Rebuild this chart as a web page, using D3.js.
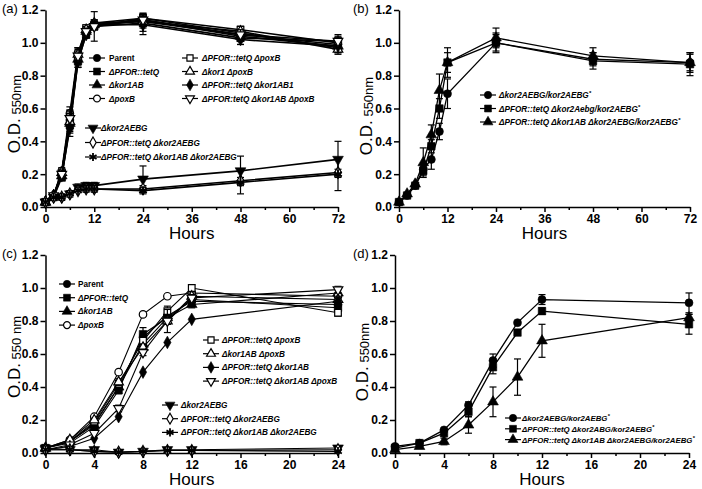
<!DOCTYPE html>
<html><head><meta charset="utf-8">
<script src="https://cdn.jsdelivr.net/npm/d3@7"></script>
<style>body{margin:0;background:#fff} svg{display:block} text{font-family:"Liberation Sans",Arial,Helvetica,sans-serif;}</style>
</head><body><svg id="chart" width="702" height="489"></svg>
<script>
// ---------- DATA ----------
const timesLong = [0,2,4,6,8,10,12,24,48,72];
const timesShort = [0,2,4,6,8,10,12,24];
const xTicksLong = [0,12,24,36,48,60,72];
const xMinorLong = [6,18,30,42,54,66];
const xTicksShort = [0,4,8,12,16,20,24];
const xMinorShort = [2,6,10,14,18,22];
const yTicks = [0,0.2,0.4,0.6,0.8,1.0,1.2];

// Panel (a): 11 strains, 72 h
const aLabels = ["Parent","ΔPFOR::tetQ","Δkor1AB","ΔpoxB","ΔPFOR::tetQ ΔpoxB","Δkor1 ΔpoxB","ΔPFOR::tetQ Δkor1AB1","ΔPFOR:tetQ Δkor1AB ΔpoxB","Δkor2AEBG","ΔPFOR::tetQ Δkor2AEBG","ΔPFOR::tetQ Δkor1AB Δkor2AEBG"];
const aValues = [
  [0.03,0.07,0.21,0.53,0.92,1.06,1.11,1.13,1.05,0.99],
  [0.03,0.06,0.18,0.50,0.89,1.05,1.10,1.12,1.03,1.01],
  [0.03,0.07,0.19,0.51,0.90,1.07,1.11,1.14,1.04,0.98],
  [0.03,0.07,0.22,0.57,0.94,1.08,1.12,1.15,1.06,0.97],
  [0.03,0.06,0.20,0.55,0.91,1.09,1.10,1.15,1.08,1.00],
  [0.03,0.07,0.21,0.52,0.93,1.08,1.12,1.13,1.07,0.96],
  [0.03,0.07,0.19,0.48,0.89,1.05,1.11,1.11,1.02,0.98],
  [0.03,0.07,0.20,0.54,0.92,1.07,1.10,1.14,1.05,1.01],
  [0.03,0.06,0.06,0.08,0.12,0.13,0.13,0.17,0.22,0.29],
  [0.03,0.06,0.06,0.08,0.10,0.11,0.11,0.11,0.16,0.21],
  [0.03,0.06,0.06,0.08,0.10,0.11,0.11,0.10,0.15,0.20]
];
const aErrors = [
  [0,0.01,0.02,0.06,0.05,0.02,0.02,0.04,0.04,0.03],
  [0,0.01,0.02,0.05,0.04,0.02,0.02,0.05,0.04,0.04],
  [0,0.01,0.02,0.05,0.04,0.02,0.02,0.03,0.03,0.03],
  [0,0.01,0.02,0.04,0.03,0.02,0.02,0.03,0.03,0.03],
  [0,0.01,0.02,0.04,0.04,0.02,0.09,0.03,0.02,0.03],
  [0,0.01,0.02,0.04,0.04,0.02,0.02,0.03,0.03,0.03],
  [0,0.01,0.02,0.05,0.04,0.02,0.02,0.06,0.03,0.04],
  [0,0.01,0.02,0.04,0.04,0.02,0.02,0.03,0.03,0.03],
  [0,0.01,0.02,0.02,0.02,0.02,0.02,0.08,0.09,0.11],
  [0,0.01,0.01,0.01,0.01,0.01,0.01,0.02,0.02,0.02],
  [0,0.01,0.01,0.01,0.01,0.02,0.02,0.02,0.07,0.10]
];

// Panel (b): complemented strains, 72 h
const bLabels = ["Δkor2AEBG/kor2AEBG","ΔPFOR::tetQ Δkor2Aebg/kor2AEBG","ΔPFOR::tetQ Δkor1AB Δkor2AEBG/kor2AEBG"];
const bValues = [
  [0.03,0.07,0.13,0.23,0.29,0.46,0.69,1.00,0.90,0.88],
  [0.03,0.07,0.13,0.22,0.37,0.60,0.88,1.00,0.89,0.87],
  [0.03,0.08,0.14,0.27,0.44,0.71,0.88,1.03,0.92,0.88]
];
const bErrors = [
  [0,0.01,0.01,0.03,0.06,0.05,0.09,0.05,0.04,0.05],
  [0,0.01,0.01,0.03,0.04,0.06,0.09,0.06,0.05,0.07],
  [0,0.01,0.01,0.09,0.06,0.10,0.06,0.06,0.05,0.06]
];

// Panel (c): 11 strains, 24 h
const cLabels = aLabels.slice();
cLabels[5] = "Δkor1AB ΔpoxB"; cLabels[6] = "ΔPFOR::tetQ Δkor1AB"; cLabels[7] = "ΔPFOR::tetQ Δkor1AB ΔpoxB";
const cValues = [
  [0.03,0.07,0.18,0.40,0.70,0.83,0.92,0.90],
  [0.03,0.06,0.16,0.38,0.72,0.82,0.93,0.88],
  [0.03,0.07,0.17,0.40,0.66,0.82,0.90,0.97],
  [0.03,0.08,0.22,0.49,0.84,0.95,0.97,0.95],
  [0.03,0.07,0.19,0.42,0.68,0.86,1.00,0.85],
  [0.03,0.08,0.20,0.43,0.64,0.80,0.95,0.93],
  [0.02,0.04,0.09,0.22,0.49,0.67,0.81,0.92],
  [0.02,0.05,0.12,0.27,0.61,0.80,0.94,0.99],
  [0.03,0.02,0.02,0.005,0.01,0.02,0.02,0.03],
  [0.02,0.02,0.01,0.005,0.01,0.015,0.015,0.02],
  [0.02,0.02,0.01,0.005,0.01,0.015,0.015,0.01]
];
const cErrors = [
  [0,0.01,0.01,0.02,0.02,0.02,0.02,0.02],
  [0,0.01,0.01,0.02,0.04,0.04,0.03,0.02],
  [0,0.01,0.01,0.02,0.02,0.02,0.02,0.02],
  [0,0.01,0.01,0.01,0.01,0.01,0.01,0.01],
  [0,0.01,0.01,0.02,0.02,0.03,0.02,0.02],
  [0,0.01,0.01,0.02,0.02,0.07,0.02,0.02],
  [0,0.01,0.01,0.01,0.01,0.01,0.01,0.02],
  [0,0.01,0.01,0.02,0.02,0.02,0.02,0.02],
  [0,0.005,0.005,0.005,0.005,0.005,0.005,0.005],
  [0,0.005,0.005,0.005,0.005,0.005,0.005,0.005],
  [0,0.005,0.005,0.005,0.005,0.005,0.005,0.005]
];

// Panel (d): complemented strains, 24 h
const dLabels = ["Δkor2AEBG/kor2AEBG","ΔPFOR::tetQ Δkor2ABG/kor2AEBG","ΔPFOR::tetQ Δkor1AB Δkor2AEBG/kor2AEBG"];
const dValues = [
  [0.04,0.06,0.14,0.29,0.56,0.79,0.93,0.91],
  [0.03,0.06,0.12,0.25,0.52,0.73,0.86,0.78],
  [0.02,0.04,0.07,0.17,0.31,0.46,0.68,0.82]
];
const dErrors = [
  [0,0.01,0.01,0.02,0.04,0.01,0.03,0.06],
  [0,0.01,0.01,0.03,0.04,0.01,0.02,0.06],
  [0,0.01,0.02,0.05,0.09,0.11,0.10,0.02]
];

// ---------- STYLE ----------
const elevenSymbols = ["circleF","squareF","triF","circleO","squareO","triO","diamondF","triDownO","triDownF","diamondO","star"];
const threeSymbols = ["circleF","squareF","triF"];
const symDefs = {
  circleF:{t:d3.symbolCircle,s:50,open:false,r:0},
  squareF:{t:d3.symbolSquare,s:56,open:false,r:0},
  triF:{t:d3.symbolTriangle,s:50,open:false,r:0},
  circleO:{t:d3.symbolCircle,s:44,open:true,r:0},
  squareO:{t:d3.symbolSquare,s:44,open:true,r:0},
  triO:{t:d3.symbolTriangle,s:40,open:true,r:0},
  diamondF:{t:d3.symbolDiamond,s:46,open:false,r:0},
  triDownO:{t:d3.symbolTriangle,s:40,open:true,r:180},
  triDownF:{t:d3.symbolTriangle,s:50,open:false,r:180},
  diamondO:{t:d3.symbolDiamond,s:40,open:true,r:0},
  star:{t:(d3.symbolAsterisk||d3.symbolCross),s:55,open:false,r:0,stroke:true}
};

const svg = d3.select("#chart");

function drawSymbol(g, key, cx, cy, scale){
  const def = symDefs[key];
  const p = g.append("path")
    .attr("d", d3.symbol(def.t, def.s*(scale||1))())
    .attr("transform", `translate(${cx},${cy}) rotate(${def.r})`);
  if (def.stroke){
    p.attr("fill","none").attr("stroke","#000").attr("stroke-width",1.8);
  } else if (def.open){
    p.attr("fill","#fff").attr("stroke","#000").attr("stroke-width",1.2);
  } else {
    p.attr("fill","#000").attr("stroke","#000").attr("stroke-width",0.6);
  }
}

function addLabel(g, x, y, label, opts){
  const t = g.append("text").attr("x",x).attr("y",y)
    .attr("font-size",opts.fs).attr("font-weight","bold")
    .attr("font-style", label==="Parent" ? "normal" : "italic");
  t.append("tspan").text(label);
  if (opts.star){
    t.append("tspan").attr("dy",-3).attr("font-size",opts.fs*0.75).text("*");
  }
}

function drawPanel(p){
  const x = d3.scaleLinear().domain([0,p.xMax]).range([p.left,p.right]);
  const y = d3.scaleLinear().domain([0,1.2]).range([p.bottom,p.top]);
  const g = svg.append("g");

  // axes
  const xa = g.append("g").attr("transform",`translate(0,${p.bottom})`)
    .call(d3.axisBottom(x).tickValues(p.xTicks).tickSize(5).tickSizeOuter(0).tickPadding(2).tickFormat(d3.format("d")));
  g.append("g").attr("transform",`translate(0,${p.bottom})`)
    .call(d3.axisBottom(x).tickValues(p.xMinor).tickSize(3).tickFormat(""))
    .call(s=>s.select(".domain").remove());
  const ya = g.append("g").attr("transform",`translate(${p.left},0)`)
    .call(d3.axisLeft(y).tickValues(yTicks).tickSize(5).tickSizeOuter(0).tickPadding(2).tickFormat(d3.format(".1f")));
  g.selectAll(".domain, .tick line").attr("stroke","#000").attr("stroke-width",1.5);
  [xa,ya].forEach(a=>a.selectAll("text").attr("font-size",12).attr("font-weight","bold").attr("fill","#000")
     .attr("font-family","'Liberation Sans',Arial,sans-serif"));

  // axis titles
  g.append("text").attr("x",(p.left+p.right)/2).attr("y",p.bottom+32)
    .attr("text-anchor","middle").attr("font-size",17).text("Hours");
  const yl = g.append("text").attr("transform",`translate(${p.yLabelX},${p.yLabelY}) rotate(-90)`)
    .attr("text-anchor","middle");
  yl.append("tspan").attr("font-size",17).text("O.D.");
  yl.append("tspan").attr("font-size",13).attr("dy",1).text(p.sub);
  g.append("text").attr("x",p.tagX).attr("y",p.tagY).attr("font-size",13).text(p.tag);

  // series
  const line = d3.line().x((d,i)=>x(p.times[i])).y(d=>y(d));
  p.values.forEach((vals,si)=>{
    const sg = g.append("g");
    sg.append("path").attr("d",line(vals)).attr("fill","none").attr("stroke","#000").attr("stroke-width",p.lw);
    vals.forEach((v,i)=>{
      const e = p.errors[si][i];
      if (e>0.015){
        const cx = x(p.times[i]);
        sg.append("line").attr("x1",cx).attr("x2",cx).attr("y1",y(v-e)).attr("y2",y(v+e)).attr("stroke","#000").attr("stroke-width",1.2);
        [v-e,v+e].forEach(w=>sg.append("line").attr("x1",cx-3.5).attr("x2",cx+3.5).attr("y1",y(w)).attr("y2",y(w)).attr("stroke","#000").attr("stroke-width",1.2));
      }
    });
    vals.forEach((v,i)=>drawSymbol(sg,p.symbols[si],x(p.times[i]),y(v),1));
  });

  // legends
  p.legends.forEach(L=>{
    L.idx.forEach((si,k)=>{
      const yy = L.y0 + k*L.dy;
      g.append("line").attr("x1",L.sx-8).attr("x2",L.sx+8).attr("y1",yy).attr("y2",yy).attr("stroke","#000").attr("stroke-width",1.2);
      drawSymbol(g,p.symbols[si],L.sx,yy,0.85);
      addLabel(g,L.tx,yy+3,p.labels[si],{fs:L.fs,star:p.star});
    });
  });
}

drawPanel({tag:"(a)",tagX:2,tagY:13,left:45.5,right:338,top:10,bottom:207,xMax:72,times:timesLong,
  xTicks:xTicksLong,xMinor:xMinorLong,values:aValues,errors:aErrors,symbols:elevenSymbols,labels:aLabels,
  sub:" 550nm",yLabelX:20,yLabelY:114,lw:1.6,star:false,
  legends:[{idx:[0,1,2,3],sx:97,tx:109,y0:58,dy:13.5,fs:8.2},
           {idx:[4,5,6,7],sx:190,tx:202,y0:58,dy:13.5,fs:8.2},
           {idx:[8,9,10],sx:93,tx:101,y0:128,dy:14.5,fs:8.2}]});

drawPanel({tag:"(b)",tagX:353,tagY:13,left:399,right:690,top:10,bottom:207,xMax:72,times:timesLong,
  xTicks:xTicksLong,xMinor:xMinorLong,values:bValues,errors:bErrors,symbols:threeSymbols,labels:bLabels,
  sub:" 550nm",yLabelX:372,yLabelY:116,lw:1.3,star:true,
  legends:[{idx:[0,1,2],sx:488,tx:499,y0:95,dy:13.5,fs:8.2}]});

drawPanel({tag:"(c)",tagX:2,tagY:258,left:45.5,right:338,top:255,bottom:453,xMax:24,times:timesShort,
  xTicks:xTicksShort,xMinor:xMinorShort,values:cValues,errors:cErrors,symbols:elevenSymbols,labels:cLabels,
  sub:" 550 nm",yLabelX:20,yLabelY:357,lw:1.1,star:false,
  legends:[{idx:[0,1,2,3],sx:67,tx:78,y0:284,dy:13.7,fs:8.2},
           {idx:[4,5,6,7],sx:211,tx:222,y0:340,dy:13.7,fs:8.2},
           {idx:[8,9,10],sx:170,tx:181,y0:405,dy:13.7,fs:8.2}]});

drawPanel({tag:"(d)",tagX:353,tagY:258,left:395,right:689,top:255,bottom:453,xMax:24,times:timesShort,
  xTicks:xTicksShort,xMinor:xMinorShort,values:dValues,errors:dErrors,symbols:threeSymbols,labels:dLabels,
  sub:" 550nm",yLabelX:368,yLabelY:362,lw:1.3,star:true,
  legends:[{idx:[0,1,2],sx:513,tx:522,y0:418,dy:10.8,fs:7.8}]});
</script>
</body></html>
